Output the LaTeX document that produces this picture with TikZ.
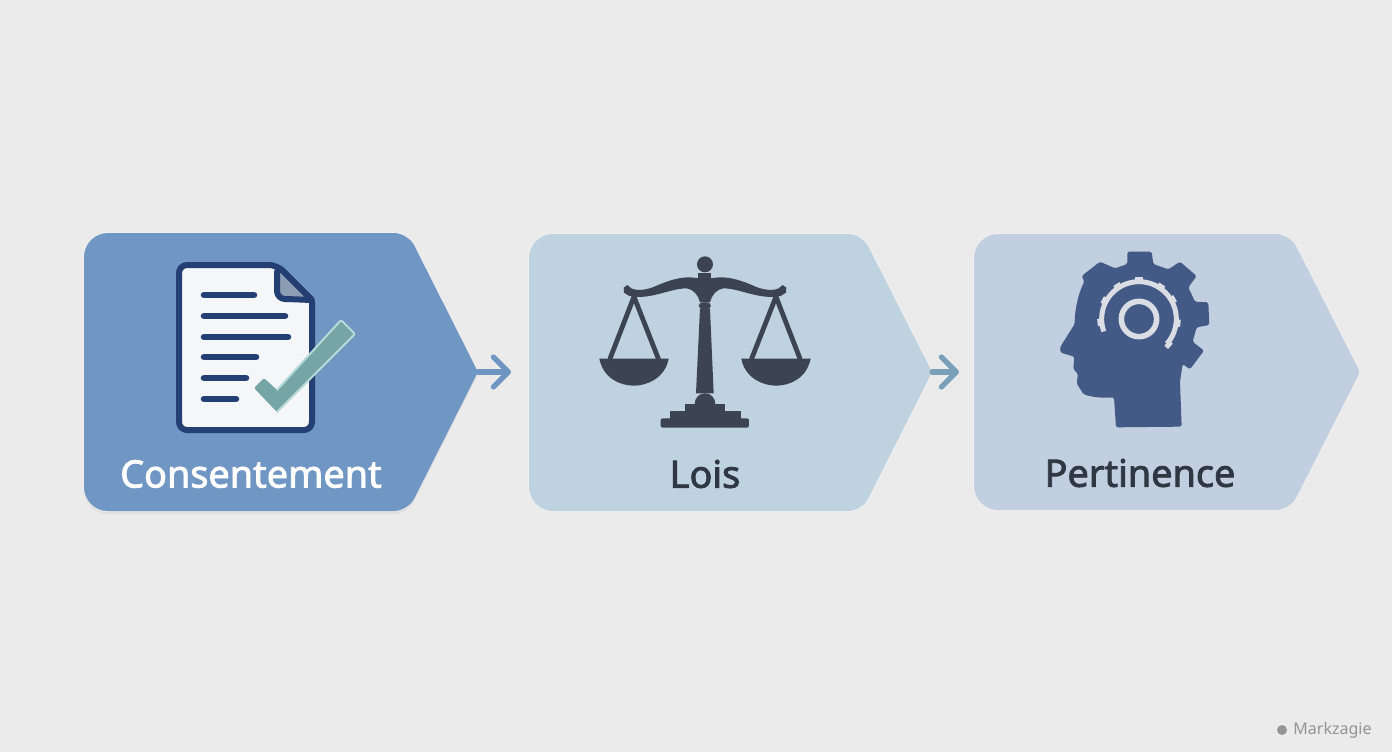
\documentclass[tikz,border=0pt]{standalone}
\usepackage{fontspec}
\setmainfont{Noto Sans}
\newfontfamily\labelfont[FakeBold=2.2]{Noto Sans}
\usetikzlibrary{arrows.meta,shadows}
\definecolor{bgc}{HTML}{EBEBEC}
\definecolor{panA}{HTML}{7096C4}
\definecolor{panB}{HTML}{BFD2DF}
\definecolor{panC}{HTML}{C2CFE0}
\definecolor{navy}{HTML}{243F73}
\definecolor{paper}{HTML}{F5F6F8}
\definecolor{foldc}{HTML}{8C9DB4}
\definecolor{teal}{HTML}{76A5A5}
\definecolor{tealb}{HTML}{B5DAD8}
\definecolor{scalec}{HTML}{3B4450}
\definecolor{headc}{HTML}{435A87}
\definecolor{gearc}{HTML}{DADDE3}
\definecolor{arrA}{HTML}{6F96C2}
\definecolor{arrB}{HTML}{7A9FB8}
\definecolor{darktext}{HTML}{2F3742}
\tikzset{
  x=0.5pt,y=-0.5pt,
  flowarrow/.style={line width=2.6pt,line cap=round,-{Straight Barb[length=7.5pt,width=15pt,line width=2.6pt,round]}},
  labeltext/.style={inner sep=0pt,font=\labelfont\fontsize{18.9pt}{22pt}\selectfont},
  docline/.style={draw=navy,line width=3.3pt,line cap=round},
  scaleline/.style={draw=scalec,line width=2.4pt},
  halo/.style={preaction={draw=white,draw opacity=.25,line width=0.9pt}},
}
\begin{document}
\begin{tikzpicture}
\useasboundingbox (0,0) rectangle (1392,752);
\fill[bgc] (0,0) rectangle (1392,752);

% panels
\fill[panA,drop shadow={shadow xshift=0pt,shadow yshift=-1.5pt,opacity=.10},halo]
  (84,372) [rounded corners=12pt] -- (84,233) [rounded corners=7pt] -- (408,233) [rounded corners=1.5pt] -- (478,372) [rounded corners=7pt] -- (408,511) [rounded corners=12pt] -- (84,511) -- cycle;
\fill[panB,halo] (529,372) [rounded corners=12pt] -- (529,234) [rounded corners=7pt] -- (862,234) [rounded corners=1.5pt] -- (932,372) [rounded corners=7pt] -- (862,511) [rounded corners=12pt] -- (529,511) -- cycle;
\fill[panC,halo] (974,372) [rounded corners=12pt] -- (974,234) [rounded corners=7pt] -- (1290,234) [rounded corners=1.5pt] -- (1360,372) [rounded corners=7pt] -- (1290,510) [rounded corners=12pt] -- (974,510) -- cycle;

% connectors
\coordinate (tipA) at (478,372);
\coordinate (endA) at (511,372);
\coordinate (tipB) at (932,372);
\coordinate (endB) at (959,372);
\draw[flowarrow,arrA] (tipA) -- (endA);
\draw[flowarrow,arrB] (tipB) -- (endB);

% document icon
\draw[navy,fill=paper,line width=3pt,line join=round,rounded corners=4pt] (179,265) -- (277,265) [rounded corners=1pt] -- (312,300) [rounded corners=4pt] -- (312,430) -- (179,430) -- cycle;
\draw[navy,fill=foldc,line width=3pt,line join=round] (277,265) -- (312,300) -- (287,299) [rounded corners=4pt] -- (277,299) -- cycle;
\foreach \yy/\xe in {295/254,316/285,337/288,357/256,378/246,399/236}
  \draw[docline] (204,\yy) -- (\xe,\yy);
\fill[teal,rounded corners=1pt] (341,320) -- (355,334) -- (277,412) -- (254,388) -- (264,378) -- (277,390) -- cycle;
\draw[tealb,line width=1pt,rounded corners=1pt,line cap=round] (277,390) -- (341,320) -- (355,334) -- (277,412);

% scales icon
\begin{scope}[shift={(590,245)},scale=0.3333]
  \fill[scalec] (345,58) circle[radius=24];
  \fill[scalec] (325,84) rectangle (364,112);
  \foreach \mx/\sg in {0/1,690/-1}{
    \begin{scope}[shift={(\mx,0)},xscale=\sg]
      \fill[scalec] (345,95) -- (325,100) .. controls (290,92) and (250,100) .. (200,122)
        .. controls (170,136) and (140,138) .. (124,130) -- (112,120) -- (101,128) -- (102,143) -- (118,153)
        .. controls (180,166) and (240,130) .. (290,130)
        .. controls (310,133) and (325,150) .. (330,172) -- (345,172) -- cycle;
      \draw[scaleline,line cap=round] (60,341) -- (132,155) -- (205,341);
      \fill[scalec] (28,341) -- (236,341) .. controls (225,400) and (170,422) .. (132,422)
        .. controls (90,422) and (40,400) .. (28,341) -- cycle;
    \end{scope}
  }
  \fill[scalec,rounded corners=2pt] (326,172) rectangle (363,192);
  \fill[scalec] (330,190) -- (360,190) -- (371,445) -- (318,445) -- cycle;
  \fill[scalec] (314,480) .. controls (314,455) and (330,445) .. (345,445) .. controls (360,445) and (376,455) .. (376,480) -- cycle;
  \fill[scalec] (285,476) rectangle (405,500);
  \fill[scalec] (240,498) rectangle (452,522);
  \fill[scalec,rounded corners=1pt] (212,520) rectangle (477,548);
\end{scope}

% head and gear icon
\begin{scope}[shift={(1040,240)},scale=0.3333]
  \fill[headc,rounded corners=0.8pt]
    (262,35) -- (335,35) -- (340,72) -- (385,88) -- (420,65) -- (470,108) -- (445,142)
    -- (465,185) -- (505,187) -- (508,255) -- (470,262) -- (458,305) -- (492,332) -- (450,388) -- (428,372)
    -- (420,425) -- (425,560) -- (228,562) -- (222,472)
    .. controls (180,475) and (150,470) .. (130,462) -- (110,430) -- (114,402) -- (100,388) -- (103,350)
    -- (62,338) -- (60,322) -- (104,252) .. controls (104,210) and (115,160) .. (133,125)
    -- (125,108) -- (180,65) -- (225,85) -- (262,72) -- cycle;
  \draw[gearc,line width=2.5pt] plot[domain=160.5:401.5,samples=60] ({297+112*cos(\x)},{237+112*sin(\x)});
  \foreach \ang in {175,208,237,270,304,330,366,401}
    \draw[gearc,line width=3.6pt] ({297+110*cos(\ang)},{237+110*sin(\ang)}) -- ({297+125*cos(\ang)},{237+125*sin(\ang)});
  \draw[gearc,line width=2.8pt] (297,237) circle[radius=53];
\end{scope}

% labels
\node[labeltext,text=white] (labelA) at (251,474) {Consentement};
\node[labeltext,text=darktext] (labelB) at (705,474) {Lois};
\node[labeltext,text=darktext] (labelC) at (1140,473) {Pertinence};

% watermark
\fill[black!42] (1282,730) circle[radius=5];
\node[inner sep=0pt,anchor=west,text=black!42,font=\fontsize{8pt}{10pt}\selectfont] (mark) at (1293,730) {Markzagie};
\end{tikzpicture}
\end{document}
